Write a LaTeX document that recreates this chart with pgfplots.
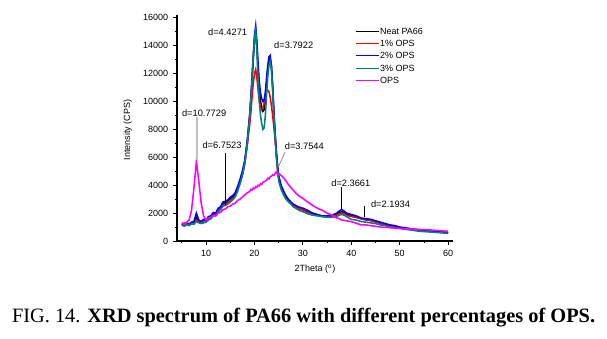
\documentclass[border=0pt]{standalone}
\usepackage{pgfplots}
\usepackage{pgfplotstable}
\pgfplotsset{compat=1.18}
\usepackage{fontspec}
\setmainfont{Liberation Sans}
\newfontfamily\capfont{Liberation Serif}
\definecolor{tealc}{RGB}{0,128,128}
\definecolor{magc}{RGB}{255,0,255}
\definecolor{bluec}{RGB}{0,0,255}
\definecolor{redc}{RGB}{255,0,0}
\pgfplotstableread{
x blue red teal black ops
5.0 1250 1200 1150 1200 1300
5.5 1150 1300 1050 1100 1200
6.0 1300 1150 1200 1250 1350
6.5 1200 1250 1100 1150 1500
7.0 1350 1200 1250 1300 2200
7.5 1400 1350 1200 1350 3800
8.0 2000 1500 1400 1700 5700
8.5 1500 1400 1300 1400 4300
9.0 1400 1300 1250 1350 2700
9.5 1550 1450 1300 1500 1800
10.0 1500 1450 1350 1450 1500
10.5 1750 1600 1500 1650 1650
11.0 1800 1700 1600 1750 1700
11.5 2050 1900 1800 1950 1850
12.0 2000 1950 1800 1950 1800
12.5 2350 2200 2100 2250 2000
13.0 2450 2350 2250 2400 2050
13.5 2800 2600 2500 2700 2250
14.0 2850 2650 2550 2750 2300
14.5 2950 2750 2650 2850 2450
15.0 3150 2900 2800 3000 2500
15.5 3250 3050 2950 3150 2650
16.0 3450 3200 3150 3350 2700
16.5 3900 3600 3550 3750 2900
17.0 4400 4100 4100 4250 3000
17.5 5000 4700 4700 4850 3150
18.0 5800 5500 5600 5700 3300
18.5 7200 6800 7000 7000 3450
19.0 9000 8300 8800 8900 3550
19.25 10300 9200 10000 10100 3700
19.5 11800 10300 11500 11500 3650
19.75 13300 11300 13200 13000 3800
20.0 14700 12000 14500 14400 3750
20.25 15400 12300 15100 15000 3900
20.5 14300 11700 13600 13900 3850
20.75 12700 10800 11600 12200 4000
21.0 11400 10000 10000 10800 3950
21.25 10600 9600 9000 10000 4100
21.5 10200 9400 8400 9600 4050
21.75 10000 9500 8000 9300 4200
22.0 10100 9900 8100 9400 4250
22.25 10700 10400 9000 10000 4300
22.5 11700 10700 10500 11200 4350
22.75 12600 10800 11800 12300 4500
23.0 13200 10700 12600 12900 4450
23.25 13300 10300 12900 13100 4600
23.5 12600 9700 12300 12500 4650
23.75 11200 9000 10900 11000 4750
24.0 9400 8200 9100 9200 4700
24.25 7800 7300 7500 7700 4850
24.5 6500 6100 6200 6400 4950
24.75 5500 5100 5200 5400 4800
25.0 4700 4500 4300 4500 4850
25.5 4000 3900 3700 3850 4700
26.0 3600 3450 3300 3450 4550
26.5 3250 3150 3000 3100 4300
27.0 3000 2900 2800 2900 4050
27.5 2800 2700 2650 2750 3850
28.0 2650 2550 2450 2550 3650
28.5 2550 2450 2350 2450 3450
29.0 2450 2350 2250 2350 3300
29.5 2400 2300 2150 2300 3150
30.0 2350 2200 2100 2250 3050
31 2200 2050 1950 2100 2800
32 2000 1950 1850 1950 2550
33 1900 1850 1800 1850 2350
34 1800 1750 1750 1800 2200
35 1800 1750 1700 1750 2000
36 1850 1750 1700 1800 1850
37 2000 1850 1750 1900 1650
37.5 2150 1950 1850 2050 1600
38 2250 2000 1900 2100 1500
38.5 2150 1950 1850 2050 1480
39 2000 1850 1750 1950 1450
40 1900 1750 1550 1800 1380
41 1800 1700 1500 1700 1280
42 1650 1600 1400 1600 1150
43 1600 1500 1350 1550 1150
44 1550 1450 1300 1500 1100
45 1450 1350 1250 1400 1050
46 1350 1250 1150 1300 1000
47 1250 1150 1100 1200 980
48 1150 1100 1000 1100 950
49 1100 1000 950 1050 920
50 1000 950 900 950 900
52 900 850 800 850 870
54 800 750 700 750 830
56 750 700 650 700 800
58 650 650 600 650 750
60 600 600 550 600 700
}\xrd
\begin{document}
\begin{tikzpicture}
\path[use as bounding box] (0,0) rectangle (15.175,8.45);
\begin{axis}[
  at={(4.425cm,2.425cm)}, anchor=south west,
  scale only axis, width=6.9cm, height=5.65cm,
  xmin=4, xmax=61, ymin=0, ymax=16200,
  axis lines=left, axis line style={-, line width=0.8pt},
  tick align=outside,
  major tick length=0.1cm, minor tick length=0.05cm,
  every tick/.style={black, line width=0.6pt},
  xtick={10,20,...,60}, minor xtick={5,15,...,55},
  ytick={0,2000,...,16000}, minor ytick={1000,3000,...,15000},
  scaled y ticks=false,
  /pgf/number format/set thousands separator={},
  /pgf/number format/assume math mode=true,
  tick label style={font=\fontsize{6.4}{7}\selectfont},
  label style={font=\fontsize{6.4}{7}\selectfont},
  xlabel={2Theta (\textsuperscript{o})},
  ylabel={Intensity (CPS)},
  xlabel style={at={(axis description cs:0.5,-0.124)}, anchor=center},
  ylabel style={at={(axis description cs:-0.178,0.491)}, anchor=center},
  legend style={at={(axis description cs:0.645,0.952)}, anchor=north west,
    draw=none, fill=none, inner sep=0pt, row sep=1.6pt,
    font=\fontsize{6.4}{7}\selectfont,
    nodes={inner sep=0.6pt, text height=5pt, text depth=1pt}},
  legend cell align=left,
  legend image code/.code={\draw[#1, line width=0.7pt] (0cm,0cm) -- (0.575cm,0cm);},
  every axis plot/.append style={line width=1.1pt},
  clip=false,
]
\addplot[black] table[x=x, y=black] {\xrd};
\addlegendentry{Neat PA66}
\addplot[redc] table[x=x, y=red] {\xrd};
\addlegendentry{1\% OPS}
\addplot[bluec] table[x=x, y=blue] {\xrd};
\addlegendentry{2\% OPS}
\addplot[tealc] table[x=x, y=teal] {\xrd};
\addlegendentry{3\% OPS}
\addplot[magc] table[x=x, y=ops] {\xrd};
\addlegendentry{OPS}
\begin{scope}[font=\fontsize{6.6}{7}\selectfont]
\node at (axis cs:14.45,15000) {d=4.4271};
\node at (axis cs:28.1,14070) {d=3.7922};
\node at (axis cs:9.6,9160) {d=10.7729};
\node at (axis cs:13.3,6860) {d=6.7523};
\node at (axis cs:30.3,6790) {d=3.7544};
\node at (axis cs:39.9,4140) {d=2.3661};
\node at (axis cs:48.1,2620) {d=2.1934};
\end{scope}
\draw[gray!50, line width=1pt] (axis cs:8.1,8860) -- (axis cs:8.1,5800);
\draw[black, line width=0.6pt] (axis cs:13.9,6290) -- (axis cs:13.9,2570);
\draw[gray, line width=0.5pt] (axis cs:26.3,6360) -- (axis cs:24.9,5290);
\draw[black, line width=0.6pt] (axis cs:37.95,3880) -- (axis cs:37.95,2210);
\draw[black, line width=0.6pt] (axis cs:42.8,2500) -- (axis cs:42.8,1690);
\end{axis}
\node at (7.59,0.5) {\capfont\fontsize{14.5}{17}\selectfont FIG. 14. \textbf{XRD spectrum of PA66 with different percentages of OPS.}};
\end{tikzpicture}
\end{document}
